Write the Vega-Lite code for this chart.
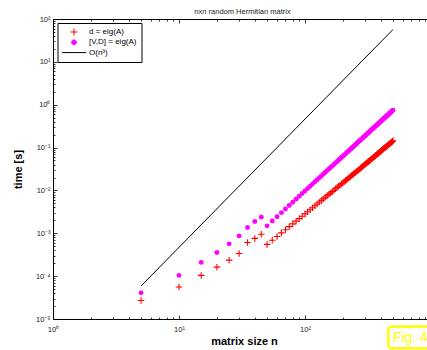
{
  "$schema": "https://vega.github.io/schema/vega-lite/v6.json",
  "width": 374,
  "height": 300,
  "autosize": {"type": "none"},
  "padding": {"left": 53, "top": 19, "right": 0, "bottom": 31},
  "background": "white",
  "config": {
    "view": {"stroke": null},
    "font": "Liberation Sans",
    "axis": {"grid": false, "labelFont": "Liberation Sans", "labelFontSize": 7.5, "labelColor": "#222", "tickColor": "black", "domainColor": "black", "tickWidth": 0.8, "domainWidth": 1, "labelFlush": false, "labelOverlap": false, "titleFont": "Liberation Sans", "titleColor": "black"}
  },
  "datasets": {
    "red": [
      {"n": 5, "t": 2.7e-5}, {"n": 10, "t": 5.6e-5}, {"n": 15, "t": 1.04e-4}, {"n": 20, "t": 1.62e-4}, {"n": 25, "t": 2.36e-4},
      {"n": 30, "t": 3.38e-4}, {"n": 35, "t": 6.1e-4}, {"n": 40, "t": 7.6e-4}, {"n": 45, "t": 9.5e-4}, {"n": 50, "t": 5.5e-4},
      {"n": 55, "t": 6.87e-4}, {"n": 60, "t": 8.43e-4}, {"n": 65, "t": 1.02e-3}, {"n": 70, "t": 1.21e-3}, {"n": 75, "t": 1.43e-3},
      {"n": 80, "t": 1.66e-3}, {"n": 85, "t": 1.92e-3}, {"n": 90, "t": 2.2e-3}, {"n": 95, "t": 2.5e-3}, {"n": 100, "t": 2.83e-3},
      {"n": 105, "t": 3.18e-3}, {"n": 110, "t": 3.55e-3}, {"n": 115, "t": 3.95e-3}, {"n": 120, "t": 4.38e-3}, {"n": 125, "t": 4.83e-3},
      {"n": 130, "t": 5.31e-3}, {"n": 135, "t": 5.81e-3}, {"n": 140, "t": 6.35e-3}, {"n": 145, "t": 6.91e-3}, {"n": 150, "t": 7.49e-3},
      {"n": 155, "t": 8.11e-3}, {"n": 160, "t": 8.76e-3}, {"n": 165, "t": 9.44e-3}, {"n": 170, "t": 0.0101}, {"n": 175, "t": 0.0109},
      {"n": 180, "t": 0.0117}, {"n": 185, "t": 0.0125}, {"n": 190, "t": 0.0133}, {"n": 195, "t": 0.0142}, {"n": 200, "t": 0.0151},
      {"n": 205, "t": 0.016}, {"n": 210, "t": 0.017}, {"n": 215, "t": 0.018}, {"n": 220, "t": 0.019}, {"n": 225, "t": 0.0201},
      {"n": 230, "t": 0.0212}, {"n": 235, "t": 0.0223}, {"n": 240, "t": 0.0235}, {"n": 245, "t": 0.0247}, {"n": 250, "t": 0.026},
      {"n": 255, "t": 0.0273}, {"n": 260, "t": 0.0286}, {"n": 265, "t": 0.03}, {"n": 270, "t": 0.0314}, {"n": 275, "t": 0.0328},
      {"n": 280, "t": 0.0343}, {"n": 285, "t": 0.0358}, {"n": 290, "t": 0.0374}, {"n": 295, "t": 0.039}, {"n": 300, "t": 0.0406},
      {"n": 305, "t": 0.0423}, {"n": 310, "t": 0.0441}, {"n": 315, "t": 0.0458}, {"n": 320, "t": 0.0476}, {"n": 325, "t": 0.0495},
      {"n": 330, "t": 0.0514}, {"n": 335, "t": 0.0533}, {"n": 340, "t": 0.0553}, {"n": 345, "t": 0.0574}, {"n": 350, "t": 0.0595},
      {"n": 355, "t": 0.0616}, {"n": 360, "t": 0.0637}, {"n": 365, "t": 0.0659}, {"n": 370, "t": 0.0682}, {"n": 375, "t": 0.0705},
      {"n": 380, "t": 0.0729}, {"n": 385, "t": 0.0753}, {"n": 390, "t": 0.0777}, {"n": 395, "t": 0.0802}, {"n": 400, "t": 0.0828},
      {"n": 405, "t": 0.0854}, {"n": 410, "t": 0.088}, {"n": 415, "t": 0.0907}, {"n": 420, "t": 0.0934}, {"n": 425, "t": 0.0962},
      {"n": 430, "t": 0.099}, {"n": 435, "t": 0.102}, {"n": 440, "t": 0.105}, {"n": 445, "t": 0.108}, {"n": 450, "t": 0.111},
      {"n": 455, "t": 0.114}, {"n": 460, "t": 0.117}, {"n": 465, "t": 0.12}, {"n": 470, "t": 0.124}, {"n": 475, "t": 0.127},
      {"n": 480, "t": 0.13}, {"n": 485, "t": 0.134}, {"n": 490, "t": 0.137}, {"n": 495, "t": 0.141}, {"n": 500, "t": 0.144}
    ],
    "magenta": [
      {"n": 5, "t": 4.07e-5}, {"n": 10, "t": 1.04e-4}, {"n": 15, "t": 2.09e-4}, {"n": 20, "t": 3.57e-4}, {"n": 25, "t": 5.67e-4},
      {"n": 30, "t": 8.7e-4}, {"n": 35, "t": 1.37e-3}, {"n": 40, "t": 1.89e-3}, {"n": 45, "t": 2.38e-3}, {"n": 50, "t": 1.49e-3},
      {"n": 55, "t": 1.93e-3}, {"n": 60, "t": 2.44e-3}, {"n": 65, "t": 3.03e-3}, {"n": 70, "t": 3.7e-3}, {"n": 75, "t": 4.46e-3},
      {"n": 80, "t": 5.31e-3}, {"n": 85, "t": 6.26e-3}, {"n": 90, "t": 7.3e-3}, {"n": 95, "t": 8.45e-3}, {"n": 100, "t": 9.7e-3},
      {"n": 105, "t": 0.0111}, {"n": 110, "t": 0.0125}, {"n": 115, "t": 0.0142}, {"n": 120, "t": 0.0159}, {"n": 125, "t": 0.0177},
      {"n": 130, "t": 0.0197}, {"n": 135, "t": 0.0218}, {"n": 140, "t": 0.0241}, {"n": 145, "t": 0.0265}, {"n": 150, "t": 0.029},
      {"n": 155, "t": 0.0317}, {"n": 160, "t": 0.0345}, {"n": 165, "t": 0.0375}, {"n": 170, "t": 0.0406}, {"n": 175, "t": 0.044},
      {"n": 180, "t": 0.0474}, {"n": 185, "t": 0.0511}, {"n": 190, "t": 0.0549}, {"n": 195, "t": 0.0589}, {"n": 200, "t": 0.063},
      {"n": 205, "t": 0.0674}, {"n": 210, "t": 0.0719}, {"n": 215, "t": 0.0766}, {"n": 220, "t": 0.0815}, {"n": 225, "t": 0.0866},
      {"n": 230, "t": 0.0919}, {"n": 235, "t": 0.0974}, {"n": 240, "t": 0.103}, {"n": 245, "t": 0.109}, {"n": 250, "t": 0.115},
      {"n": 255, "t": 0.121}, {"n": 260, "t": 0.128}, {"n": 265, "t": 0.135}, {"n": 270, "t": 0.142}, {"n": 275, "t": 0.149},
      {"n": 280, "t": 0.156}, {"n": 285, "t": 0.164}, {"n": 290, "t": 0.172}, {"n": 295, "t": 0.18}, {"n": 300, "t": 0.188},
      {"n": 305, "t": 0.197}, {"n": 310, "t": 0.206}, {"n": 315, "t": 0.215}, {"n": 320, "t": 0.224}, {"n": 325, "t": 0.234},
      {"n": 330, "t": 0.244}, {"n": 335, "t": 0.254}, {"n": 340, "t": 0.264}, {"n": 345, "t": 0.275}, {"n": 350, "t": 0.286},
      {"n": 355, "t": 0.297}, {"n": 360, "t": 0.308}, {"n": 365, "t": 0.32}, {"n": 370, "t": 0.332}, {"n": 375, "t": 0.344},
      {"n": 380, "t": 0.357}, {"n": 385, "t": 0.369}, {"n": 390, "t": 0.383}, {"n": 395, "t": 0.396}, {"n": 400, "t": 0.41},
      {"n": 405, "t": 0.424}, {"n": 410, "t": 0.438}, {"n": 415, "t": 0.452}, {"n": 420, "t": 0.467}, {"n": 425, "t": 0.482},
      {"n": 430, "t": 0.498}, {"n": 435, "t": 0.514}, {"n": 440, "t": 0.53}, {"n": 445, "t": 0.546}, {"n": 450, "t": 0.563},
      {"n": 455, "t": 0.58}, {"n": 460, "t": 0.597}, {"n": 465, "t": 0.615}, {"n": 470, "t": 0.633}, {"n": 475, "t": 0.651},
      {"n": 480, "t": 0.67}, {"n": 485, "t": 0.689}, {"n": 490, "t": 0.708}, {"n": 495, "t": 0.728}, {"n": 500, "t": 0.748}
    ],
    "cubic": [{"n": 5, "t": 5.9e-5}, {"n": 500, "t": 57}],
    "note": [{"label": "Fig. 4"}]
  },
  "resolve": {"axis": {"x": "independent", "y": "independent"}},
  "layer": [
    {
      "data": {"name": "cubic"},
      "mark": {"type": "line", "strokeWidth": 1, "clip": false},
      "encoding": {
        "x": {"field": "n", "type": "quantitative",
          "scale": {"type": "log", "domain": [1, 930], "nice": false},
          "axis": {"orient": "bottom", "values": [1, 10, 100], "tickSize": -4, "labelPadding": 10, "labelBaseline": "top",
            "labelExpr": "'10' + (round(log(datum.value)/LN10) < 0 ? '⁻' : '') + ['⁰','¹','²','³','⁴','⁵','⁶','⁷','⁸','⁹'][abs(round(log(datum.value)/LN10))]",
            "title": "matrix size n", "titleFontSize": 11, "titleFontWeight": "bold", "titleX": 191, "titleY": 25.5, "titleBaseline": "alphabetic", "titleAlign": "center"}},
        "y": {"field": "t", "type": "quantitative",
          "scale": {"type": "log", "domain": [1e-5, 100], "nice": false},
          "axis": {"orient": "left", "values": [1e-5, 1e-4, 0.001, 0.01, 0.1, 1, 10, 100], "tickSize": -4, "labelPadding": 7, "labelBaseline": "middle", "labelAlign": "right",
            "labelExpr": "'10' + (round(log(datum.value)/LN10) < 0 ? '⁻' : '') + ['⁰','¹','²','³','⁴','⁵','⁶','⁷','⁸','⁹'][abs(round(log(datum.value)/LN10))]",
            "title": "time [s]", "titleFontSize": 11, "titleFontWeight": "bold", "titleX": -35, "titleY": 150, "titleAngle": -90, "titleBaseline": "middle", "titleAlign": "center"}},
        "color": {"datum": "O(n³)", "type": "nominal",
          "scale": {"domain": ["d = eig(A)", "[V,D] = eig(A)", "O(n³)"], "range": ["#ff0000", "#ff00ff", "#000000"]},
          "legend": {"title": null, "orient": "none", "legendX": 4.5, "legendY": 4, "padding": 4,
            "strokeColor": "black", "fillColor": "white", "cornerRadius": 0,
            "symbolSize": 576, "symbolStrokeWidth": 1, "clipHeight": 10, "rowPadding": 0.3, "labelOffset": 2.5,
            "labelFont": "Liberation Sans", "labelFontSize": 8, "labelColor": "black", "symbolType": "stroke",
            "encode": {"symbols": {"update": {
              "shape": [
                {"test": "datum.value === 'd = eig(A)'", "value": "M-0.29,0H0.29M0,-0.29V0.29"},
                {"test": "datum.value === '[V,D] = eig(A)'", "value": "M-0.2,0A0.2,0.2,0,1,0,0.2,0A0.2,0.2,0,1,0,-0.2,0Z"},
                {"value": "stroke"}
              ],
              "fill": [{"test": "datum.value === '[V,D] = eig(A)'", "value": "#ff00ff"}, {"value": "transparent"}],
              "stroke": [
                {"test": "datum.value === 'd = eig(A)'", "value": "#ff0000"},
                {"test": "datum.value === '[V,D] = eig(A)'", "value": "#ff00ff"},
                {"value": "#000000"}
              ],
              "opacity": {"value": 1}
            }}}}}
      }
    },
    {
      "data": {"name": "red"},
      "mark": {"type": "point", "shape": "M-1,0H1M0,-1V1", "filled": false, "size": 42, "strokeWidth": 1.1, "opacity": 1},
      "encoding": {
        "x": {"field": "n", "type": "quantitative", "scale": {"type": "log", "domain": [1, 930], "nice": false},
          "axis": {"orient": "bottom", "values": [2, 3, 4, 5, 6, 7, 8, 9, 20, 30, 40, 50, 60, 70, 80, 90, 200, 300, 400, 500, 600, 700, 800, 900], "labels": false, "domain": false, "tickSize": -2, "title": null}},
        "y": {"field": "t", "type": "quantitative", "scale": {"type": "log", "domain": [1e-5, 100], "nice": false},
          "axis": {"orient": "left", "values": [2e-5, 3e-5, 4e-5, 5e-5, 6e-5, 7e-5, 8e-5, 9e-5, 2e-4, 3e-4, 4e-4, 5e-4, 6e-4, 7e-4, 8e-4, 9e-4, 0.002, 0.003, 0.004, 0.005, 0.006, 0.007, 0.008, 0.009, 0.02, 0.03, 0.04, 0.05, 0.06, 0.07, 0.08, 0.09, 0.2, 0.3, 0.4, 0.5, 0.6, 0.7, 0.8, 0.9, 2, 3, 4, 5, 6, 7, 8, 9, 20, 30, 40, 50, 60, 70, 80, 90], "labels": false, "domain": false, "tickSize": -2, "title": null}},
        "color": {"datum": "d = eig(A)", "type": "nominal"}
      }
    },
    {
      "data": {"name": "magenta"},
      "mark": {"type": "point", "shape": "circle", "filled": true, "size": 24, "opacity": 1},
      "encoding": {
        "x": {"field": "n", "type": "quantitative", "scale": {"type": "log", "domain": [1, 930], "nice": false},
          "axis": {"orient": "top", "values": [1, 10, 100], "labels": false, "domain": true, "tickSize": -4,
            "title": "nxn random Hermitian matrix", "titleFontSize": 7.5, "titleFontWeight": "normal", "titleColor": "#222", "titleX": 189, "titleY": -6, "titleBaseline": "alphabetic", "titleAlign": "center"}},
        "y": {"field": "t", "type": "quantitative", "scale": {"type": "log", "domain": [1e-5, 100], "nice": false}, "axis": null},
        "color": {"datum": "[V,D] = eig(A)", "type": "nominal"}
      }
    },
    {
      "data": {"name": "note"},
      "mark": {"type": "rect", "fill": "white", "stroke": "#ffff00", "strokeWidth": 2.5, "cornerRadius": 4, "clip": false},
      "encoding": {
        "x": {"datum": 458, "type": "quantitative", "scale": {"type": "log", "domain": [1, 930], "nice": false},
          "axis": {"orient": "top", "values": [2, 3, 4, 5, 6, 7, 8, 9, 20, 30, 40, 50, 60, 70, 80, 90, 200, 300, 400, 500, 600, 700, 800, 900], "labels": false, "domain": false, "tickSize": -2, "title": null}},
        "x2": {"datum": 1400},
        "y": {"datum": 6.68e-6, "type": "quantitative", "scale": {"type": "log", "domain": [1e-5, 100], "nice": false}, "axis": null},
        "y2": {"datum": 2.08e-6}
      }
    },
    {
      "data": {"name": "note"},
      "mark": {"type": "text", "align": "left", "baseline": "alphabetic", "font": "Liberation Sans", "fontSize": 14, "color": "#ffff00", "clip": false},
      "encoding": {
        "x": {"datum": 497, "type": "quantitative", "scale": {"type": "log", "domain": [1, 930], "nice": false}, "axis": null},
        "y": {"datum": 2.92e-6, "type": "quantitative", "scale": {"type": "log", "domain": [1e-5, 100], "nice": false}, "axis": null},
        "text": {"field": "label"}
      }
    }
  ]
}
